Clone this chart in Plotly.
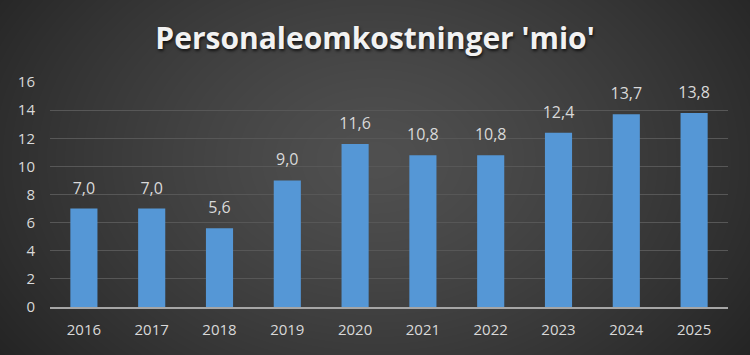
import plotly.graph_objects as go
import numpy as np
import zlib, struct, base64

years = ["2016", "2017", "2018", "2019", "2020", "2021", "2022", "2023", "2024", "2025"]
values = [7.0, 7.0, 5.6, 9.0, 11.6, 10.8, 10.8, 12.4, 13.7, 13.8]
labels = [f"{v:.1f}".replace(".", ",") for v in values]
title_text = "Personaleomkostninger 'mio'"

W, H = 750, 355
L, R, T, B = 50, 22, 82, 48
PW, PH = W - L - R, H - T - B


def make_png(w, h):
    yy, xx = np.mgrid[0:h, 0:w].astype(float)
    cx, cy = w * 0.5, h * 0.45
    d = np.sqrt(((xx - cx) / (w * 0.62)) ** 2 + ((yy - cy) / (h * 0.95)) ** 2)
    d = np.clip(d, 0, 1)
    inner, outer = 80.0, 36.0
    v = inner + (outer - inner) * d ** 1.3
    img = np.clip(v, 0, 255).astype(np.uint8)
    rgb = np.stack([img, img, img], axis=-1)
    raw = b"".join(b"\x00" + rgb[i].tobytes() for i in range(h))

    def chunk(tag, data):
        c = struct.pack(">I", len(data)) + tag + data
        return c + struct.pack(">I", zlib.crc32(tag + data) & 0xffffffff)

    png = b"\x89PNG\r\n\x1a\n"
    png += chunk(b"IHDR", struct.pack(">IIBBBBB", w, h, 8, 2, 0, 0, 0))
    png += chunk(b"IDAT", zlib.compress(raw, 9))
    png += chunk(b"IEND", b"")
    return "data:image/png;base64," + base64.b64encode(png).decode()


bg = make_png(W, H)

fig = go.Figure()
fig.add_trace(go.Bar(
    x=years, y=values,
    marker=dict(color="#5597d6", line=dict(width=0)),
    hoverinfo="skip",
))
fig.add_trace(go.Scatter(
    x=years, y=values, text=labels, mode="markers+text", textposition="top center",
    marker=dict(size=16, color="rgba(0,0,0,0)"),
    textfont=dict(family="Open Sans, sans-serif", size=16, color="#d9d9d9"),
    cliponaxis=False, hoverinfo="skip",
))

fig.update_layout(
    width=W, height=H,
    margin=dict(l=L, r=R, t=T, b=B),
    paper_bgcolor="#333333", plot_bgcolor="rgba(0,0,0,0)",
    bargap=0.6, showlegend=False,
    title=dict(text="<b>" + title_text + "</b>", x=0.5, xanchor="center",
               y=1 - 38 / H, yanchor="middle",
               font=dict(family="Open Sans, sans-serif", size=30, color="#f2f2f2",
                         shadow="1px 2px 3px rgba(0,0,0,0.7)")),
    images=[dict(source=bg, xref="paper", yref="paper",
                 x=-L / PW, y=1 + T / PH, sizex=W / PW, sizey=H / PH,
                 xanchor="left", yanchor="top", sizing="stretch", layer="below")],
    xaxis=dict(type="category", range=[-0.5, len(years) - 0.5], showgrid=False,
               showline=True, linecolor="#a6a6a6", linewidth=2,
               ticks="", tickfont=dict(family="Open Sans, sans-serif", size=15, color="#d9d9d9"),
               ticklabelstandoff=8),
    yaxis=dict(range=[0, 16], dtick=2, showgrid=True, gridcolor="#575757", gridwidth=1,
               zeroline=False, showline=False, ticks="",
               tickfont=dict(family="Open Sans, sans-serif", size=15, color="#d9d9d9"),
               ticklabelstandoff=14),
)

fig.write_html("out.html")
